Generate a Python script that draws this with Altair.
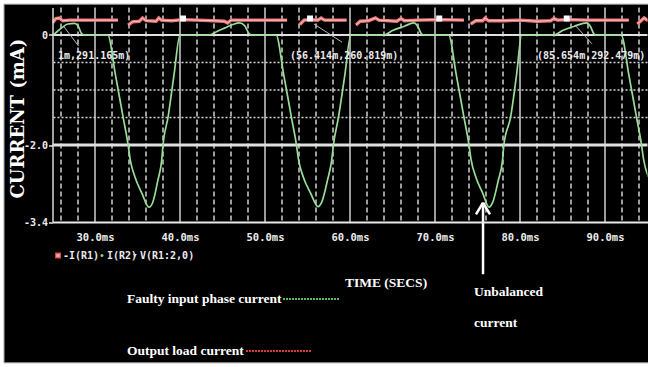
import altair as alt
import pandas as pd

# ---- traces: time in ms, current in mA ----
green_t = [25.0, 25.3, 26.0, 26.8, 27.6, 28.0, 28.4, 28.7, 31.5,
           32.4, 33.3, 33.9, 34.15, 34.7, 35.5, 36.35, 36.8, 37.4, 37.85, 38.0, 38.6, 39.3, 40.0,
           43.5, 44.4, 45.3, 46.2, 47.0, 47.6, 48.1, 48.4, 51.3,
           52.2, 53.1, 53.7, 53.95, 54.5, 55.35, 56.25, 56.7, 57.35, 57.85, 58.05, 58.65, 59.4, 60.1,
           64.0, 65.0, 66.4, 67.5, 68.0, 68.4, 68.6, 71.6,
           72.5, 73.4, 74.0, 74.25, 74.8, 75.6, 76.35, 76.8, 77.45, 77.95, 78.1, 78.9, 79.6, 80.2,
           84.0, 85.0, 86.4, 87.9, 88.3, 88.7, 88.9, 91.9,
           92.8, 93.7, 94.3, 94.55, 95.1]
green_i = [0.0, 0.03, 0.12, 0.20, 0.21, 0.17, 0.03, 0.0, 0.0,
           -0.72, -1.49, -2.0, -2.27, -2.58, -2.87, -3.13, -3.04, -2.64, -2.27, -2.0, -1.49, -0.72, 0.0,
           0.0, 0.07, 0.13, 0.19, 0.22, 0.17, 0.03, 0.0, 0.0,
           -0.72, -1.49, -2.0, -2.27, -2.58, -2.87, -3.12, -3.03, -2.64, -2.27, -2.0, -1.49, -0.72, 0.0,
           0.0, 0.08, 0.16, 0.22, 0.15, 0.02, 0.0, 0.0,
           -0.72, -1.49, -2.0, -2.27, -2.58, -2.87, -3.13, -3.04, -2.64, -2.27, -2.0, -1.49, -0.72, 0.0,
           0.0, 0.08, 0.16, 0.22, 0.15, 0.02, 0.0, 0.0,
           -0.72, -1.49, -2.0, -2.27, -2.58]

red_t = [25.0, 25.4, 25.8, 26.2, 27.0, 29.0, 31.0, 32.7,
         33.9, 34.4, 35.2, 35.6, 36.0, 37.2, 37.5, 37.8, 39.0, 40.35, 42.0, 44.0, 45.2, 45.6, 46.0, 47.5, 50.0, 52.6,
         54.1, 54.6, 55.3, 56.2, 56.6, 57.0, 59.6,
         60.7, 61.2, 62.2, 63.0, 63.4, 65.5, 66.0, 66.4, 68.0, 70.5, 73.4,
         74.2, 74.8, 75.6, 75.9, 76.3, 78.0, 80.0, 82.0, 83.6, 84.0, 84.4, 85.5, 88.0, 90.0, 92.8,
         93.8, 94.3, 94.6, 95.1]
red_i = [0.22, 0.30, 0.31, 0.26, 0.27, 0.27, 0.27, 0.27,
         0.18, 0.24, 0.25, 0.31, 0.26, 0.25, 0.31, 0.27, 0.26, 0.28, 0.27, 0.26, 0.25, 0.22, 0.27, 0.27, 0.27, 0.27,
         0.19, 0.27, 0.28, 0.27, 0.31, 0.27, 0.27,
         0.18, 0.25, 0.26, 0.31, 0.27, 0.25, 0.30, 0.26, 0.27, 0.28, 0.27,
         0.20, 0.26, 0.26, 0.31, 0.26, 0.26, 0.27, 0.25, 0.26, 0.30, 0.27, 0.28, 0.27, 0.27, 0.27,
         0.20, 0.27, 0.31, 0.26]
red_seg = [1] * 8 + [2] * 18 + [3] * 7 + [4] * 11 + [5] * 15 + [6] * 4

marker_t = [40.35, 55.3, 70.5, 85.5]
marker_i = [0.30, 0.30, 0.30, 0.30]

# ---- grid and axis values ----
x_ticks = [30, 40, 50, 60, 70, 80, 90]
x_minor = [26, 28, 32, 34, 36, 38, 42, 44, 46, 48, 52, 54, 56, 58,
           62, 64, 66, 68, 72, 74, 76, 78, 82, 84, 86, 88, 92, 94]
y_ticks = [0.0, -2.0, -3.4]
y_dashed = [-0.5, -1.0, -1.5]
y_solid = [0.0, -2.0]

# ---- cursor read-outs ----
cursor_text = ["1m,291.165m)", "(56.414m,260.819m)", "(85.654m,292.479m)"]
cursor_t = [25.65, 52.94, 82.0]
cursor_i = [-0.38, -0.38, -0.38]
leader_t = [26.3, 55.76, 86.47]
leader_i = [0.16, 0.20, 0.18]
leader_t2 = [28.06, 59.06, 88.47]
leader_i2 = [-0.2, -0.13, -0.16]

x_scale = alt.Scale(domain=[25, 95], nice=False, zero=False)
y_scale = alt.Scale(domain=[-3.4, 0.5], nice=False, zero=False)

MONO = "DejaVu Sans Mono"
WHITE = "#ececec"

x_axis = alt.Axis(values=x_ticks, labelExpr="format(datum.value, '.1f') + 'ms'",
                  grid=False, ticks=False, domainColor="#e8e8e8", domainWidth=2,
                  labelColor=WHITE, labelFont=MONO, labelFontWeight="bold",
                  labelFontSize=10.5, labelPadding=10, labelFlush=False, title="", zindex=2)
y_axis = alt.Axis(values=y_ticks,
                  labelExpr="datum.value == 0 ? '0' : replace(format(datum.value, '.1f'), '\u2212', '-')",
                  grid=False, tickColor="#e8e8e8", tickSize=4, tickWidth=1.5,
                  domainColor="#d8d8d8", domainWidth=1.5,
                  labelColor=WHITE, labelFont=MONO, labelFontWeight="bold",
                  labelFontSize=10, labelPadding=1, labelFlush=False, title="", zindex=2)


def X(field):
    return alt.X(f"{field}:Q", scale=x_scale, axis=x_axis)


def Y(field):
    return alt.Y(f"{field}:Q", scale=y_scale, axis=y_axis)


# dark screen panel behind everything
panel = alt.Chart(pd.DataFrame({"t": [19.3], "t2": [95.2], "i": [0.56], "i2": [-5.96]})).mark_rect(
    color="#000000", stroke="#9a9a9a", strokeWidth=1
).encode(x=X("t"), x2="t2", y=Y("i"), y2="i2")

minor_v = alt.Chart(pd.DataFrame({"t": x_minor})).mark_rule(
    color="#d0d0d0", strokeWidth=1.5, strokeDash=[5, 3]
).encode(x=X("t"))
major_v = alt.Chart(pd.DataFrame({"t": x_ticks})).mark_rule(
    color="#cfcfcf", strokeWidth=1.5
).encode(x=X("t"))
dashed_h = alt.Chart(pd.DataFrame({"i": y_dashed})).mark_rule(
    color="#d8d8d8", strokeWidth=1.5, strokeDash=[2, 2]
).encode(y=Y("i"))
solid_h = alt.Chart(pd.DataFrame({"i": y_solid, "w": [2.0, 3.0]})).mark_rule(
    color="#e0e0e0"
).encode(y=Y("i"), strokeWidth=alt.StrokeWidth("w:Q", scale=None))

green = alt.Chart(pd.DataFrame({"t": green_t, "i": green_i})).mark_line(
    color="#98dc98", strokeWidth=1.7, clip=True, interpolate="monotone"
).encode(x=X("t"), y=Y("i"))

red_df = pd.DataFrame({"t": red_t, "i": red_i, "seg": red_seg})
red = alt.Chart(red_df).mark_line(color="#e97474", strokeWidth=3.4, clip=True).encode(
    x=X("t"), y=Y("i"), detail="seg:N")
red_core = alt.Chart(red_df).mark_line(color="#ffc6c6", strokeWidth=1, clip=True).encode(
    x=X("t"), y=Y("i"), detail="seg:N")

markers = alt.Chart(pd.DataFrame({"t": marker_t, "i": marker_i})).mark_point(
    shape="square", size=36, filled=True, color="#ffffff", opacity=1
).encode(x=X("t"), y=Y("i"))

leaders = alt.Chart(pd.DataFrame({"t": leader_t, "i": leader_i, "t2": leader_t2, "i2": leader_i2})).mark_rule(
    color="#b8b8b8", strokeWidth=1
).encode(x=X("t"), y=Y("i"), x2="t2", y2="i2")

cursors = alt.Chart(pd.DataFrame({"t": cursor_t, "i": cursor_i, "s": cursor_text})).mark_text(
    font=MONO, fontWeight="bold", fontSize=10, color=WHITE, align="left", baseline="middle"
).encode(x=X("t"), y=Y("i"), text="s:N")

# trace legend row
legend_df = pd.DataFrame({"t": [26.235, 31.41, 35.29], "i": [-4.01] * 3,
                          "s": ["-I(R1)", "I(R2)", "V(R1:2,0)"]})
legend_text = alt.Chart(legend_df).mark_text(
    font=MONO, fontWeight="bold", fontSize=10, color=WHITE, align="left", baseline="middle"
).encode(x=X("t"), y=Y("i"), text="s:N")
leg_sq = alt.Chart(pd.DataFrame({"t": [25.65], "i": [-4.01]})).mark_point(
    shape="square", size=22, filled=True, fill="#f4a6a6", stroke="#e04848", strokeWidth=1.2, opacity=1
).encode(x=X("t"), y=Y("i"))
leg_dot = alt.Chart(pd.DataFrame({"t": [30.82], "i": [-4.01]})).mark_point(
    shape="circle", size=9, filled=True, color="#7fd07f", opacity=1
).encode(x=X("t"), y=Y("i"))
leg_tri = alt.Chart(pd.DataFrame({"t": [34.71], "i": [-4.01]})).mark_point(
    shape="triangle-down", size=14, filled=True, color="#dddddd", opacity=1
).encode(x=X("t"), y=Y("i"))

# y axis title
y_title = alt.Chart(pd.DataFrame({"t": [21.0], "i": [-1.52], "s": ["CURRENT (mA)"]})).mark_text(
    font="DejaVu Serif", fontWeight="bold", fontSize=18, color="#ffffff",
    angle=270, align="center", baseline="middle"
).encode(x=X("t"), y=Y("i"), text="s:N")

# notes below the plot
notes_df = pd.DataFrame({
    "t": [59.41, 33.76, 33.76, 74.59, 74.59],
    "i": [-4.5, -4.8, -5.745, -4.67, -5.23],
    "s": ["TIME (SECS)", "Faulty input phase current", "Output load current", "Unbalanced", "current"],
})
notes = alt.Chart(notes_df).mark_text(
    font="Liberation Serif", fontWeight="bold", fontSize=13.5, color="#ffffff",
    align="left", baseline="middle"
).encode(x=X("t"), y=Y("i"), text="s:N")

swatch_df = pd.DataFrame({"t": [52.12, 47.76], "t2": [58.82, 55.41], "i": [-4.8, -5.745],
                          "c": ["#5cbc5c", "#d83c3c"]})
swatches = alt.Chart(swatch_df).mark_rule(strokeWidth=2.2, strokeDash=[2, 1]).encode(
    x=X("t"), x2="t2", y=Y("i"), color=alt.Color("c:N", scale=None))

# arrow pointing at the unbalanced dip
arrow_df = pd.DataFrame({"t": [75.65, 74.82, 76.47], "i": [-3.05, -3.26, -3.26],
                         "t2": [75.65, 75.65, 75.65], "i2": [-4.35, -3.05, -3.05]})
arrow = alt.Chart(arrow_df).mark_rule(color="#ffffff", strokeWidth=2.5).encode(
    x=X("t"), y=Y("i"), x2="t2", y2="i2")

chart = alt.layer(
    panel, minor_v, major_v, dashed_h, solid_h, leaders, green, red, red_core, markers,
    cursors, legend_text, leg_sq, leg_dot, leg_tri, y_title, notes, swatches, arrow
).properties(
    width=595, height=214.5,
    autosize=alt.AutoSizeParams(type="none"),
    padding={"left": 52.5, "top": 7.5, "right": 0.5, "bottom": 145},
    background="#ffffff",
).configure_view(strokeOpacity=0)

chart.save("out.html", embed_options={"renderer": "svg", "actions": False})
